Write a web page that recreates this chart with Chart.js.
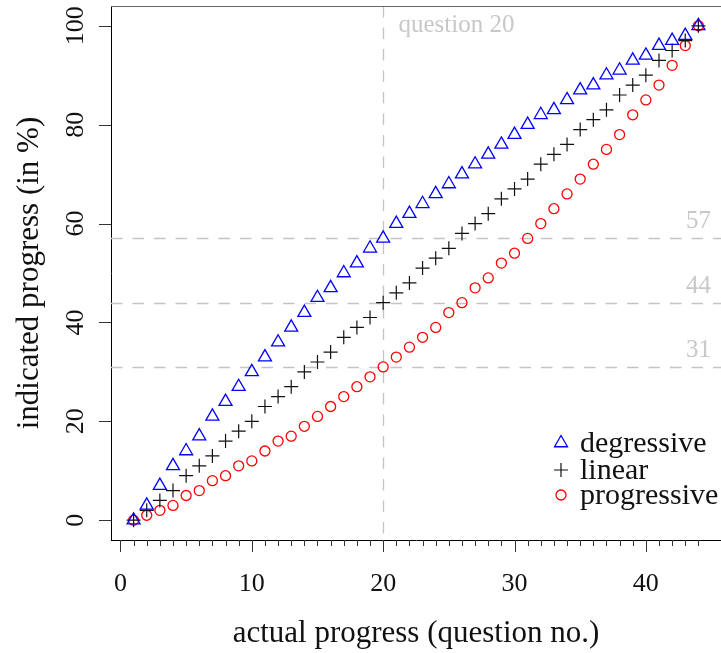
<!DOCTYPE html>
<html>
<head>
<meta charset="utf-8">
<script src="https://cdn.jsdelivr.net/npm/chart.js@4/dist/chart.umd.min.js"></script>
<style>
  html, body { margin: 0; padding: 0; background: #fff; }
  #progressChart { display: block; }
</style>
</head>
<body>
<canvas id="progressChart" width="721" height="653"></canvas>
<script>
// question number (x) and indicated progress in % (y)
const questions = [1,2,3,4,5,6,7,8,9,10,11,12,13,14,15,16,17,18,19,20,21,22,
  23,24,25,26,27,28,29,30,31,32,33,34,35,36,37,38,39,40,41,42,43,44];
const degressive = [0,3,7,11,14,17,21,24,27,30,33,36,39,42,45,47,50,52,55,57,
  60,62,64,66,68,70,72,74,76,78,80,82,83,85,87,88,90,91,93,94,96,97,98,100];
const linear = [0,2,4,6,9,11,13,16,18,20,23,25,27,30,32,34,37,39,41,44,
  46,48,51,53,55,58,60,62,65,67,69,72,74,76,79,81,83,86,88,90,93,95,97,100];
const progressive = [0,1,2,3,5,6,8,9,11,12,14,16,17,19,21,23,25,27,29,31,
  33,35,37,39,42,44,47,49,52,54,57,60,63,66,69,72,75,78,82,85,88,92,96,100];

// reference lines at question 20
const refQuestion = 20;
const refLevels = [57, 44, 31];

const xTickLabels = [0, 10, 20, 30, 40];
const yTickLabels = [0, 20, 40, 60, 80, 100];

const FONT = '"Liberation Serif", "Times New Roman", serif';
const REF_COLOR = '#c4c4c4';

function toPoints(values) {
  return questions.map((q, i) => ({ x: q, y: values[i] }));
}

const guides = {
  id: 'guides',
  beforeDatasetsDraw(chart) {
    const { ctx, chartArea: a, scales: { x, y } } = chart;
    ctx.save();
    ctx.strokeStyle = REF_COLOR;
    ctx.lineWidth = 1.3;
    ctx.setLineDash([11.5, 10]);
    const vx = Math.round(x.getPixelForValue(refQuestion)) + 0.5;
    ctx.beginPath();
    ctx.moveTo(vx, a.top);
    ctx.lineTo(vx, a.bottom);
    ctx.stroke();
    refLevels.forEach(v => {
      const py = Math.round(y.getPixelForValue(v)) + 0.5;
      ctx.beginPath();
      ctx.moveTo(a.left, py);
      ctx.lineTo(a.right, py);
      ctx.stroke();
    });
    ctx.setLineDash([]);

    // annotation texts
    ctx.fillStyle = '#c8c8c8';
    ctx.font = '25px ' + FONT;
    ctx.textBaseline = 'alphabetic';
    ctx.textAlign = 'left';
    ctx.fillText('question ' + refQuestion, vx + 15, a.top + 26);
    ctx.textAlign = 'right';
    refLevels.forEach(v => {
      ctx.fillText(String(v), 711, y.getPixelForValue(v) - 10);
    });
    ctx.restore();
  },
  afterDraw(chart) {
    const { ctx, chartArea: a, scales: { x, y } } = chart;
    ctx.save();

    // top frame line
    ctx.strokeStyle = '#666';
    ctx.lineWidth = 1;
    ctx.beginPath();
    ctx.moveTo(a.left, a.top + 0.5);
    ctx.lineTo(a.right, a.top + 0.5);
    ctx.stroke();

    // x ticks, minor every question, major every 10
    ctx.strokeStyle = '#333';
    x.ticks.forEach(t => {
      const px = Math.round(x.getPixelForValue(t.value)) + 0.5;
      const len = t.value % 10 === 0 ? 12 : 6;
      ctx.beginPath();
      ctx.moveTo(px, a.bottom);
      ctx.lineTo(px, a.bottom + len);
      ctx.stroke();
    });
    // y ticks
    y.ticks.forEach(t => {
      const py = Math.round(y.getPixelForValue(t.value)) + 0.5;
      ctx.beginPath();
      ctx.moveTo(a.left - 12, py);
      ctx.lineTo(a.left, py);
      ctx.stroke();
    });

    // tick labels
    ctx.fillStyle = '#111';
    ctx.font = '26px ' + FONT;
    ctx.textAlign = 'center';
    ctx.textBaseline = 'alphabetic';
    xTickLabels.forEach(v => {
      ctx.fillText(String(v), x.getPixelForValue(v), 591);
    });
    yTickLabels.forEach(v => {
      ctx.save();
      ctx.translate(83, y.getPixelForValue(v));
      ctx.rotate(-Math.PI / 2);
      ctx.fillText(String(v), 0, 0);
      ctx.restore();
    });

    // axis titles
    ctx.font = '31px ' + FONT;
    ctx.fillText('actual progress (question no.)', (a.left + a.right) / 2, 642);
    ctx.save();
    ctx.translate(38, (a.top + a.bottom) / 2);
    ctx.rotate(-Math.PI / 2);
    ctx.fillText('indicated progress (in %)', 0, 0);
    ctx.restore();

    // legend
    const rows = [443, 470, 495];
    ctx.font = '30px ' + FONT;
    ctx.textAlign = 'left';
    ctx.textBaseline = 'middle';
    chart.data.datasets.forEach((ds, i) => {
      ctx.save();
      ctx.strokeStyle = ds.borderColor;
      ctx.fillStyle = 'rgba(0,0,0,0)';
      ctx.lineWidth = ds.borderWidth;
      Chart.helpers.drawPoint(ctx, {
        pointStyle: ds.pointStyle,
        radius: ds.pointRadius,
        rotation: 0,
        borderWidth: ds.borderWidth
      }, 561, rows[i]);
      ctx.restore();
      ctx.fillStyle = '#111';
      ctx.fillText(ds.label, 580, rows[i] + 1);
    });
    ctx.restore();
  }
};

new Chart(document.getElementById('progressChart'), {
  type: 'scatter',
  data: {
    datasets: [
      {
        label: 'degressive',
        data: toPoints(degressive),
        pointStyle: 'triangle',
        pointRadius: 7.5,
        borderWidth: 1.3,
        borderColor: '#0000ff',
        backgroundColor: 'rgba(0,0,0,0)'
      },
      {
        label: 'linear',
        data: toPoints(linear),
        pointStyle: 'cross',
        pointRadius: 7,
        borderWidth: 1.2,
        borderColor: '#111',
        backgroundColor: 'rgba(0,0,0,0)'
      },
      {
        label: 'progressive',
        data: toPoints(progressive),
        pointStyle: 'circle',
        pointRadius: 5,
        borderWidth: 1.3,
        borderColor: '#ff0000',
        backgroundColor: 'rgba(0,0,0,0)'
      }
    ]
  },
  options: {
    responsive: false,
    animation: false,
    devicePixelRatio: 1,
    layout: { autoPadding: false, padding: { top: 6, right: 0, bottom: 0, left: 0 } },
    plugins: {
      legend: { display: false },
      tooltip: { enabled: false }
    },
    scales: {
      x: {
        type: 'linear',
        min: -0.72,
        max: 45.72,
        afterBuildTicks: s => {
          const t = [];
          for (let q = 0; q <= 44; q++) t.push({ value: q });
          s.ticks = t;
        },
        afterFit: s => { s.height = 113; },
        grid: { display: false },
        border: { display: true, color: '#000', width: 1 },
        ticks: { display: false }
      },
      y: {
        min: -4,
        max: 104,
        afterBuildTicks: s => { s.ticks = yTickLabels.map(v => ({ value: v })); },
        afterFit: s => { s.width = 111; },
        grid: { display: false },
        border: { display: true, color: '#000', width: 1 },
        ticks: { display: false }
      }
    }
  },
  plugins: [guides]
});
</script>
</body>
</html>
